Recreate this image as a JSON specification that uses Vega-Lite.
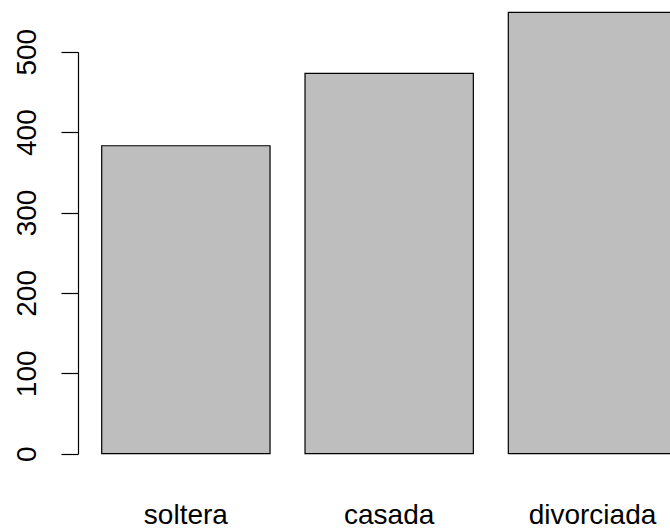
{
  "$schema": "https://vega.github.io/schema/vega-lite/v6.json",
  "width": 592,
  "height": 454,
  "autosize": {"type": "none"},
  "padding": {"left": 78, "top": 0, "right": 0, "bottom": 76},
  "background": "white",
  "config": {
    "view": {"stroke": null},
    "font": "Liberation Sans"
  },
  "data": {
    "values": [
      {"estado": "soltera", "n": 383},
      {"estado": "casada", "n": 473},
      {"estado": "divorciada", "n": 549}
    ]
  },
  "mark": {"type": "bar", "fill": "#BEBEBE", "stroke": "#000000", "strokeWidth": 1.2},
  "encoding": {
    "x": {
      "field": "estado",
      "type": "nominal",
      "sort": null,
      "scale": {"paddingInner": 0.172, "paddingOuter": 0.1166, "range": [0, 622.35]},
      "axis": {
        "title": null,
        "domain": false,
        "ticks": false,
        "tickSize": 0,
        "labelAngle": 0,
        "labelFontSize": 28,
        "labelColor": "#000000",
        "labelBaseline": "alphabetic",
        "labelPadding": 69,
        "labelFont": "Liberation Sans"
      }
    },
    "y": {
      "field": "n",
      "type": "quantitative",
      "scale": {"domain": [0, 500], "range": [453.7, 51.7], "nice": false, "zero": true},
      "axis": {
        "title": null,
        "values": [0, 100, 200, 300, 400, 500],
        "grid": false,
        "domainColor": "#000000",
        "domainWidth": 1.2,
        "tickColor": "#000000",
        "tickWidth": 1.2,
        "tickSize": 17,
        "labelAngle": 270,
        "labelAlign": "center",
        "labelBaseline": "alphabetic",
        "labelPadding": 26,
        "labelFontSize": 28,
        "labelColor": "#000000",
        "labelFont": "Liberation Sans",
        "labelFlush": false,
        "labelOverlap": false
      }
    }
  }
}
